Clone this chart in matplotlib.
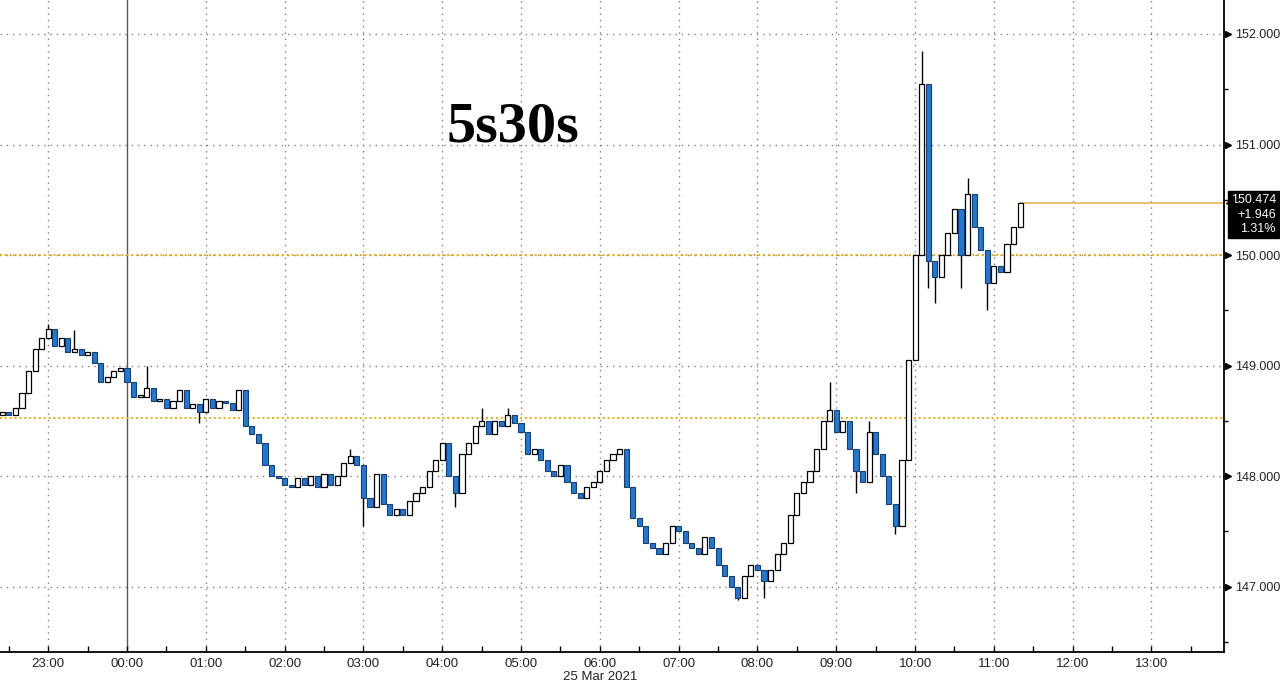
import numpy as np
import pandas as pd
import matplotlib
matplotlib.use("Agg")
import matplotlib.pyplot as plt
import matplotlib.transforms as mtransforms

plt.rcParams['font.family'] = ['Liberation Sans', 'DejaVu Sans']

# ---------------- data ----------------
title = "5s30s"
date_label = "25 Mar 2021"
start_time = "2021-03-24 22:25"
bar_minutes = 5
first_open = 148.55
close_prices = [
    148.58, 148.55, 148.62, 148.75, 148.95, 149.15, 149.25, 149.33, 149.18, 149.25,
    149.12, 149.15, 149.10, 149.12, 149.02, 148.85, 148.90, 148.95, 148.98, 148.85,
    148.72, 148.72, 148.80, 148.68, 148.70, 148.62, 148.68, 148.78, 148.62, 148.65,
    148.58, 148.70, 148.62, 148.68, 148.66, 148.60, 148.78, 148.45, 148.38, 148.30,
    148.10, 148.00, 147.98, 147.92, 147.90, 147.98, 147.92, 148.00, 147.90, 148.02,
    147.92, 148.00, 148.12, 148.18, 148.10, 147.80, 147.72, 148.02, 147.75, 147.65,
    147.70, 147.65, 147.78, 147.85, 147.90, 148.05, 148.15, 148.30, 148.00, 147.85,
    148.20, 148.30, 148.45, 148.50, 148.38, 148.50, 148.45, 148.55, 148.48, 148.40,
    148.20, 148.25, 148.15, 148.05, 148.00, 148.10, 147.95, 147.85, 147.80, 147.90,
    147.95, 148.05, 148.15, 148.20, 148.25, 147.90, 147.62, 147.55, 147.40, 147.35,
    147.30, 147.40, 147.55, 147.50, 147.40, 147.35, 147.30, 147.45, 147.35, 147.20,
    147.10, 147.00, 146.90, 147.10, 147.20, 147.15, 147.05, 147.15, 147.30, 147.40,
    147.65, 147.85, 147.95, 148.05, 148.25, 148.50, 148.60, 148.40, 148.50, 148.25,
    148.05, 147.95, 148.40, 148.20, 148.00, 147.75, 147.55, 148.15, 149.05, 150.00,
    151.55, 149.95, 149.80, 150.00, 150.20, 150.42, 150.00, 150.55, 150.25, 150.05,
    149.75, 149.90, 149.85, 150.10, 150.25, 150.474,
]
# wick extremes (bar index -> price)
high_wicks = {7: 149.38, 11: 149.32, 22: 149.00, 53: 148.25, 73: 148.62, 77: 148.62,
              126: 148.85, 132: 148.50, 140: 151.85, 147: 150.70}
low_wicks = {30: 148.48, 55: 147.55, 69: 147.72, 112: 146.88, 116: 146.90,
             130: 147.85, 136: 147.48, 141: 149.70, 142: 149.57, 146: 149.70, 150: 149.50}

last_price = 150.474
net_change = "+1.946"
pct_change = "1.31%"
prev_close = 148.528
alert_level = 150.000

hour_ticks = list(range(-1, 14))
price_ticks = [147, 148, 149, 150, 151, 152]

# ---------------- derived ----------------
times = pd.date_range(start_time, periods=len(close_prices), freq=f"{bar_minutes}min")
midnight = pd.Timestamp("2021-03-25 00:00")
xh = np.array([(t - midnight).total_seconds() / 3600.0 for t in times])
closes = np.array(close_prices)
opens = np.concatenate([[first_open], closes[:-1]])
highs = np.maximum(opens, closes)
lows = np.minimum(opens, closes)
for k, v in high_wicks.items():
    highs[k] = max(highs[k], v)
for k, v in low_wicks.items():
    lows[k] = min(lows[k], v)

# ---------------- figure ----------------
fig = plt.figure(figsize=(12.8, 6.86), dpi=100)
ax = fig.add_axes([0, 34 / 686, 1224 / 1280, 652 / 686])
ax.set_xlim(-1.612, 13.92)
ax.set_ylim(146.41, 152.307)

grid_style = dict(color='#808080', lw=1.0, linestyle=(0, (1, 3.5)), zorder=0)
for h in hour_ticks:
    if h != 0:
        ax.axvline(h, **grid_style)
for p in price_ticks:
    ax.axhline(p, **grid_style)
ax.axvline(0, color='#555555', lw=1.0, zorder=0.5)

# reference lines
ax.axhline(prev_close, color='#f2a900', lw=1.4, linestyle=(0, (1, 1.5)), zorder=1)
ax.axhline(alert_level, color='#f2a900', lw=1.4, linestyle=(0, (1, 1.5)), zorder=1)
ax.plot([xh[-1], 13.92], [last_price, last_price], color='#e3b341', lw=1.1, zorder=1)

# candles
w = bar_minutes / 60 * 0.78
ax.vlines(xh, lows, highs, color='black', lw=1.0, zorder=2)
up = closes >= opens
body_bottom = np.minimum(opens, closes)
body_h = np.maximum(np.abs(closes - opens), 0.012)
ax.bar(xh[up], body_h[up], bottom=body_bottom[up], width=w, color='white',
       edgecolor='black', linewidth=0.9, zorder=3)
ax.bar(xh[~up], body_h[~up], bottom=body_bottom[~up], width=w, color='#1f78d6',
       edgecolor='#1a3f6e', linewidth=0.8, zorder=3)

# axes styling
for s in ['top', 'left']:
    ax.spines[s].set_visible(False)
for s in ['bottom', 'right']:
    ax.spines[s].set_color('black')
    ax.spines[s].set_linewidth(1.3)

ax.set_xticks(hour_ticks)
ax.set_xticklabels([f"{h % 24:02d}:00" for h in hour_ticks])
ax.set_xticks(np.arange(-1.5, 14, 1.0), minor=True)
ax.tick_params(axis='x', which='both', direction='in', length=4, width=1,
               labelsize=9.5, pad=4, colors='black', labelcolor='#222222')

ax.yaxis.tick_right()
ax.set_yticks(price_ticks)
ax.set_yticklabels([f"{p:.3f}" for p in price_ticks])
ax.set_yticks(np.arange(146.5, 152.3, 1.0), minor=True)
ax.tick_params(axis='y', which='major', length=0, pad=8, labelsize=9,
               labelcolor='#222222')
ax.tick_params(axis='y', which='minor', direction='out', length=3, width=1)

trans = mtransforms.blended_transform_factory(ax.transAxes, ax.transData)
ax.plot([1.0035] * len(price_ticks), price_ticks, ls='none', marker='>', ms=4.5,
        color='black', transform=trans, clip_on=False, zorder=5)

# last price box
ax.text(1.0 + (1276 - 1224) / 1224, last_price + 0.075,
        f"{last_price:.3f}\n{net_change}\n{pct_change}",
        transform=trans, ha='right', va='top', color='white', fontsize=9,
        linespacing=1.25, clip_on=False, zorder=6,
        bbox=dict(boxstyle='square,pad=0.25', fc='black', ec='black'))
ax.plot([1.0 + (1230 - 1224) / 1224], [last_price], ls='none', marker='<', ms=6,
        color='black', transform=trans, clip_on=False, zorder=6)

# title
ax.text(513 / 1224, 1 - 142 / 652, title, transform=ax.transAxes, ha='center',
        va='baseline', fontsize=42, fontweight='bold',
        family=['Liberation Serif', 'DejaVu Serif'], color='black')

# date label
fig.text(600 / 1280, 1 - 677 / 686, date_label, ha='center', va='center',
         fontsize=9.5, color='#222222')

fig.savefig("out.png", dpi=100, facecolor='white')
